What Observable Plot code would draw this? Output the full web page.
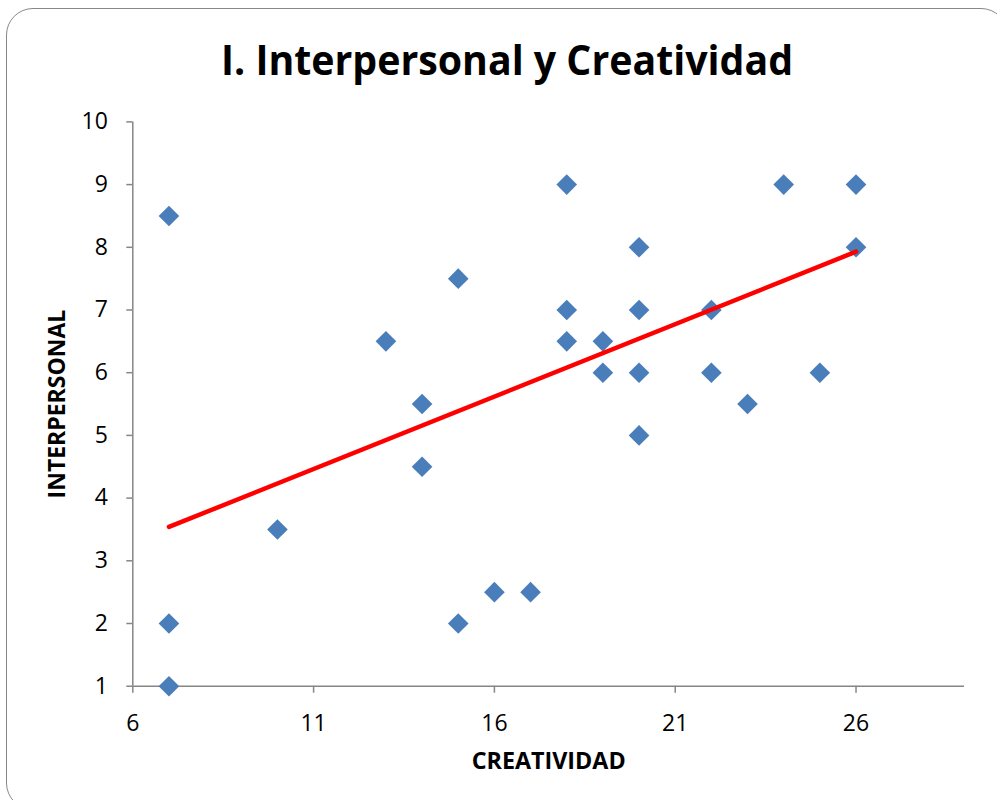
<!DOCTYPE html>
<html><head><meta charset="utf-8">
<script src="https://cdn.jsdelivr.net/npm/d3@7"></script>
<script src="https://cdn.jsdelivr.net/npm/@observablehq/plot@0.6"></script>
<style>
html,body{margin:0;padding:0;background:#fff;overflow:hidden;}
#wrap{position:relative;width:997px;height:800px;overflow:hidden;background:#fff;}
#titlebar{position:relative;height:100px;}
#title{position:absolute;left:0;top:37.7px;white-space:nowrap;font-family:"Open Sans";font-weight:700;font-size:42px;line-height:42px;transform-origin:0 0;color:#000;}
#frame{position:absolute;left:6px;top:7.5px;width:1002px;height:802px;border:1.6px solid #888;border-radius:27px;box-sizing:border-box;pointer-events:none;}
</style></head>
<body>
<div id="wrap">
  <div id="titlebar"><span id="title">I. Interpersonal y Creatividad</span></div>
  <div id="chart"></div>
  <div id="frame"></div>
</div>
<script>
const xTicks = [6, 11, 16, 21, 26];
const yTicks = [1, 2, 3, 4, 5, 6, 7, 8, 9, 10];
const xDomain = [6, 29];
const yDomain = [1, 10];
const xLabel = "CREATIVIDAD";
const yLabel = "INTERPERSONAL";
const creatividad   = [7, 7, 7, 10, 13, 14, 14, 15, 15, 16, 17, 18, 18, 18, 19, 19, 20, 20, 20, 20, 22, 22, 23, 24, 25, 26, 26];
const interpersonal = [8.5, 2, 1, 3.5, 6.5, 5.5, 4.5, 7.5, 2, 2.5, 2.5, 9, 7, 6.5, 6.5, 6, 8, 7, 6, 5, 7, 6, 5.5, 9, 6, 9, 8];
const trendX = [7, 26];
const trendY = [3.54, 7.93];

const data = creatividad.map((x, i) => ({x, y: interpersonal[i]}));
const trend = trendX.map((x, i) => ({x, y: trendY[i]}));

const axisColor = "#868686";
const chart = Plot.plot({
  width: 997,
  height: 700,
  marginTop: 21.4,
  marginBottom: 114.3,
  marginLeft: 132.3,
  marginRight: 33,
  style: {fontFamily: "Open Sans", fontSize: "23px", background: "transparent", color: "black", overflow: "visible"},
  x: {domain: xDomain, ticks: xTicks},
  y: {domain: yDomain, ticks: yTicks},
  marks: [
    Plot.axisX({ticks: xTicks, tickSize: 7, tickPadding: 21, stroke: axisColor, strokeWidth: 1.5, fill: "black", fontSize: 23, label: null}),
    Plot.axisY({ticks: yTicks, tickSize: 6, tickPadding: 19, stroke: axisColor, strokeWidth: 1.5, fill: "black", fontSize: 23, label: null}),
    Plot.ruleX([xDomain[0]], {y1: yDomain[0], y2: yDomain[1], stroke: axisColor, strokeWidth: 1.5}),
    Plot.ruleY([yDomain[0]], {x1: xDomain[0], x2: xDomain[1], stroke: axisColor, strokeWidth: 1.5}),
    Plot.dot(data, {x: "x", y: "y", symbol: "diamond2", r: 9.3, fill: "#4a7ebb"}),
    Plot.line(trend, {x: "x", y: "y", stroke: "#ff0000", strokeWidth: 4.5}),
    Plot.text([xLabel], {text: d => d, frameAnchor: "bottom", dy: 75.3, lineAnchor: "middle", textAnchor: "middle", fontWeight: "bold", fontSize: 23.3}),
    Plot.text([yLabel], {text: d => d, frameAnchor: "left", dx: -74.8, rotate: -90, lineAnchor: "middle", textAnchor: "middle", fontWeight: "bold", fontSize: 23}),
  ]
});
document.getElementById("chart").appendChild(chart);

// fit the title to the reference's width (narrow Calibri-like face)
const t = document.getElementById("title");
const w = t.getBoundingClientRect().width;
const s = 572 / w;
t.style.transform = `scaleX(${s})`;
t.style.left = (507 - w * s / 2) + "px";
</script>
</body></html>
